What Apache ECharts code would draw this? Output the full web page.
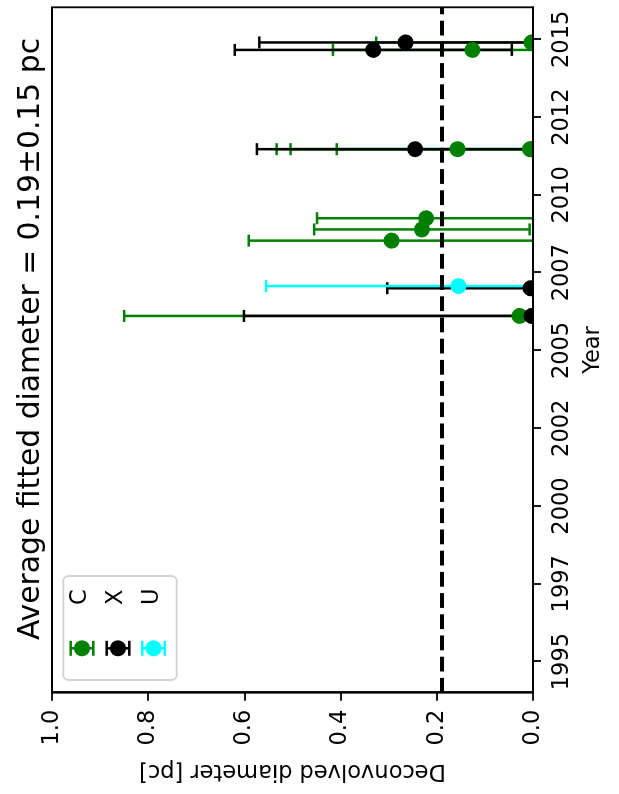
<!DOCTYPE html>
<html><head><meta charset="utf-8">
<script src="https://cdn.jsdelivr.net/npm/echarts@6/dist/echarts.min.js"></script>
<style>
html,body{margin:0;padding:0;width:619px;height:794px;overflow:hidden;background:#fff;}
#wrap{position:absolute;left:0;top:0;width:794px;height:619px;transform-origin:0 0;transform:translateY(794px) rotate(-90deg);}
</style></head><body>
<div id="wrap"></div>
<script>
// ---- data ----
const cYear = [2014.90, 2014.66, 2011.47, 2011.47, 2011.47, 2009.25, 2008.89, 2008.53, 2006.11];
const cDiam = [0.003, 0.126, 0.157, 0.006, 0.004, 0.222, 0.231, 0.294, 0.028];
const cErr  = [0.323, 0.290, 0.376, 0.402, 0.500, 0.227, 0.224, 0.297, 0.822];

const xYear = [2014.90, 2014.66, 2011.47, 2007.00, 2006.11];
const xDiam = [0.265, 0.332, 0.245, 0.005, 0.003];
const xErr  = [0.304, 0.288, 0.329, 0.298, 0.598];

const uYear = [2007.07];
const uDiam = [0.155];
const uErr  = [0.400];

const avgDiameter = 0.19;
const avgError = 0.15;

const yearTicks = [1995, 1997.5, 2000, 2002.5, 2005, 2007.5, 2010, 2012.5, 2015];
const yearTickLabels = ['1995', '1997', '2000', '2002', '2005', '2007', '2010', '2012', '2015'];
const seriesNames = ['C', 'X', 'U'];
// ----------------------------------------

const FONT = 'DejaVu Sans';
const COLORS = {C: '#008000', X: '#000000', U: '#00ffff'};
const rows = (ys, ds, es) => ys.map((y, i) => [y, ds[i], es[i]]);
const dataMap = {C: rows(cYear, cDiam, cErr), X: rows(xYear, xDiam, xErr), U: rows(uYear, uDiam, uErr)};

function errRender(color) {
  return function (params, api) {
    const x = api.value(0), d = api.value(1), e = api.value(2);
    const p = api.coord([x, d]);
    const hi = api.coord([x, d + e]);
    const lo = api.coord([x, d - e]);
    const cap = 6;
    const st = {stroke: color, lineWidth: 2.5};
    return {type: 'group', children: [
      {type: 'line', shape: {x1: p[0], y1: lo[1], x2: p[0], y2: hi[1]}, style: st},
      {type: 'line', shape: {x1: p[0] - cap, y1: hi[1], x2: p[0] + cap, y2: hi[1]}, style: st},
      {type: 'line', shape: {x1: p[0] - cap, y1: lo[1], x2: p[0] + cap, y2: lo[1]}, style: st}
    ]};
  };
}
function ptRender(color) {
  return function (params, api) {
    const p = api.coord([api.value(0), api.value(1)]);
    return {type: 'circle', shape: {cx: p[0], cy: p[1], r: 8}, style: {fill: color}};
  };
}

const series = [];
seriesNames.forEach((n, i) => {
  series.push({name: n + ' err', type: 'custom', clip: true, z: 2 + i * 0.1,
    renderItem: errRender(COLORS[n]), encode: {x: 0, y: 1}, data: dataMap[n]});
});
seriesNames.forEach((n, i) => {
  series.push({name: n, type: 'custom', clip: true, z: 3 + i * 0.1,
    renderItem: ptRender(COLORS[n]), encode: {x: 0, y: 1}, data: dataMap[n]});
});
series.push({name: 'Average', type: 'line', data: [], z: 10,
  markLine: {silent: true, symbol: 'none', label: {show: false},
    lineStyle: {color: '#000', width: 4, type: [14.8, 6.4]},
    emphasis: {disabled: true},
    data: [{yAxis: avgDiameter}]}});

// legend drawn as graphic (errorbar handles)
const legendRowsY = [82, 118, 153.5];
const legendChildren = [{type: 'rect', shape: {x: 114, y: 63.3, width: 104, height: 113.4, r: 5},
  style: {fill: 'rgba(255,255,255,0.8)', stroke: '#d0d0d0', lineWidth: 1.8}}];
seriesNames.forEach((n, i) => {
  const cy = legendRowsY[i], cx = 145.7, c = COLORS[n], hl = 11.3, cap = 7.5;
  const st = {stroke: c, lineWidth: 2.5};
  legendChildren.push(
    {type: 'line', shape: {x1: cx, y1: cy - hl, x2: cx, y2: cy + hl}, style: st},
    {type: 'line', shape: {x1: cx - cap, y1: cy - hl, x2: cx + cap, y2: cy - hl}, style: st},
    {type: 'line', shape: {x1: cx - cap, y1: cy + hl, x2: cx + cap, y2: cy + hl}, style: st},
    {type: 'circle', shape: {cx: cx, cy: cy, r: 8}, style: {fill: c}},
    {type: 'text', x: 189, y: cy - 1.5, style: {text: n, fill: '#000', font: '22.5px "' + FONT + '"', textVerticalAlign: 'middle', textAlign: 'left'}}
  );
});

const chart = echarts.init(document.getElementById('wrap'), null, {width: 794, height: 619});
chart.setOption({
  animation: false,
  backgroundColor: '#fff',
  title: {
    text: 'Average fitted diameter = ' + avgDiameter.toFixed(2) + '\u00b1' + avgError.toFixed(2) + ' pc',
    left: 455, top: 16, padding: 0, textAlign: 'center',
    textStyle: {fontFamily: FONT, fontSize: 29.8, fontWeight: 'normal', color: '#000'}
  },
  grid: {left: 101.3, right: 7.3, top: 52, bottom: 86, show: true, borderColor: '#000', borderWidth: 1.8, backgroundColor: 'transparent'},
  xAxis: {
    type: 'value', min: 1994, max: 2016.03, z: 10,
    name: 'Year', nameLocation: 'middle', nameGap: 49,
    nameTextStyle: {fontFamily: FONT, fontSize: 22.5, color: '#000'},
    axisLine: {show: true, lineStyle: {color: '#000', width: 1.8}},
    axisTick: {show: true, customValues: yearTicks, length: 8, lineStyle: {color: '#000', width: 1.8}},
    axisLabel: {customValues: yearTicks, margin: 18, fontFamily: FONT, fontSize: 22.5, color: '#000',
      formatter: v => { const k = yearTicks.findIndex(t => Math.abs(t - v) < 1e-6); return k >= 0 ? yearTickLabels[k] : ''; }},
    splitLine: {show: false}
  },
  yAxis: {
    type: 'value', min: 0, max: 1, interval: 0.2, z: 10,
    name: 'Deconvolved diameter [pc]', nameLocation: 'middle', nameRotate: 90, nameGap: 67,
    nameTextStyle: {fontFamily: FONT, fontSize: 22.5, color: '#000'},
    axisLine: {show: true, lineStyle: {color: '#000', width: 1.8}},
    axisTick: {show: true, length: 8, lineStyle: {color: '#000', width: 1.8}},
    axisLabel: {margin: 17, fontFamily: FONT, fontSize: 22.5, color: '#000', formatter: v => v.toFixed(1)},
    splitLine: {show: false}
  },
  graphic: [{type: 'group', z: 100, children: legendChildren}],
  series: series
});
</script>
</body></html>
